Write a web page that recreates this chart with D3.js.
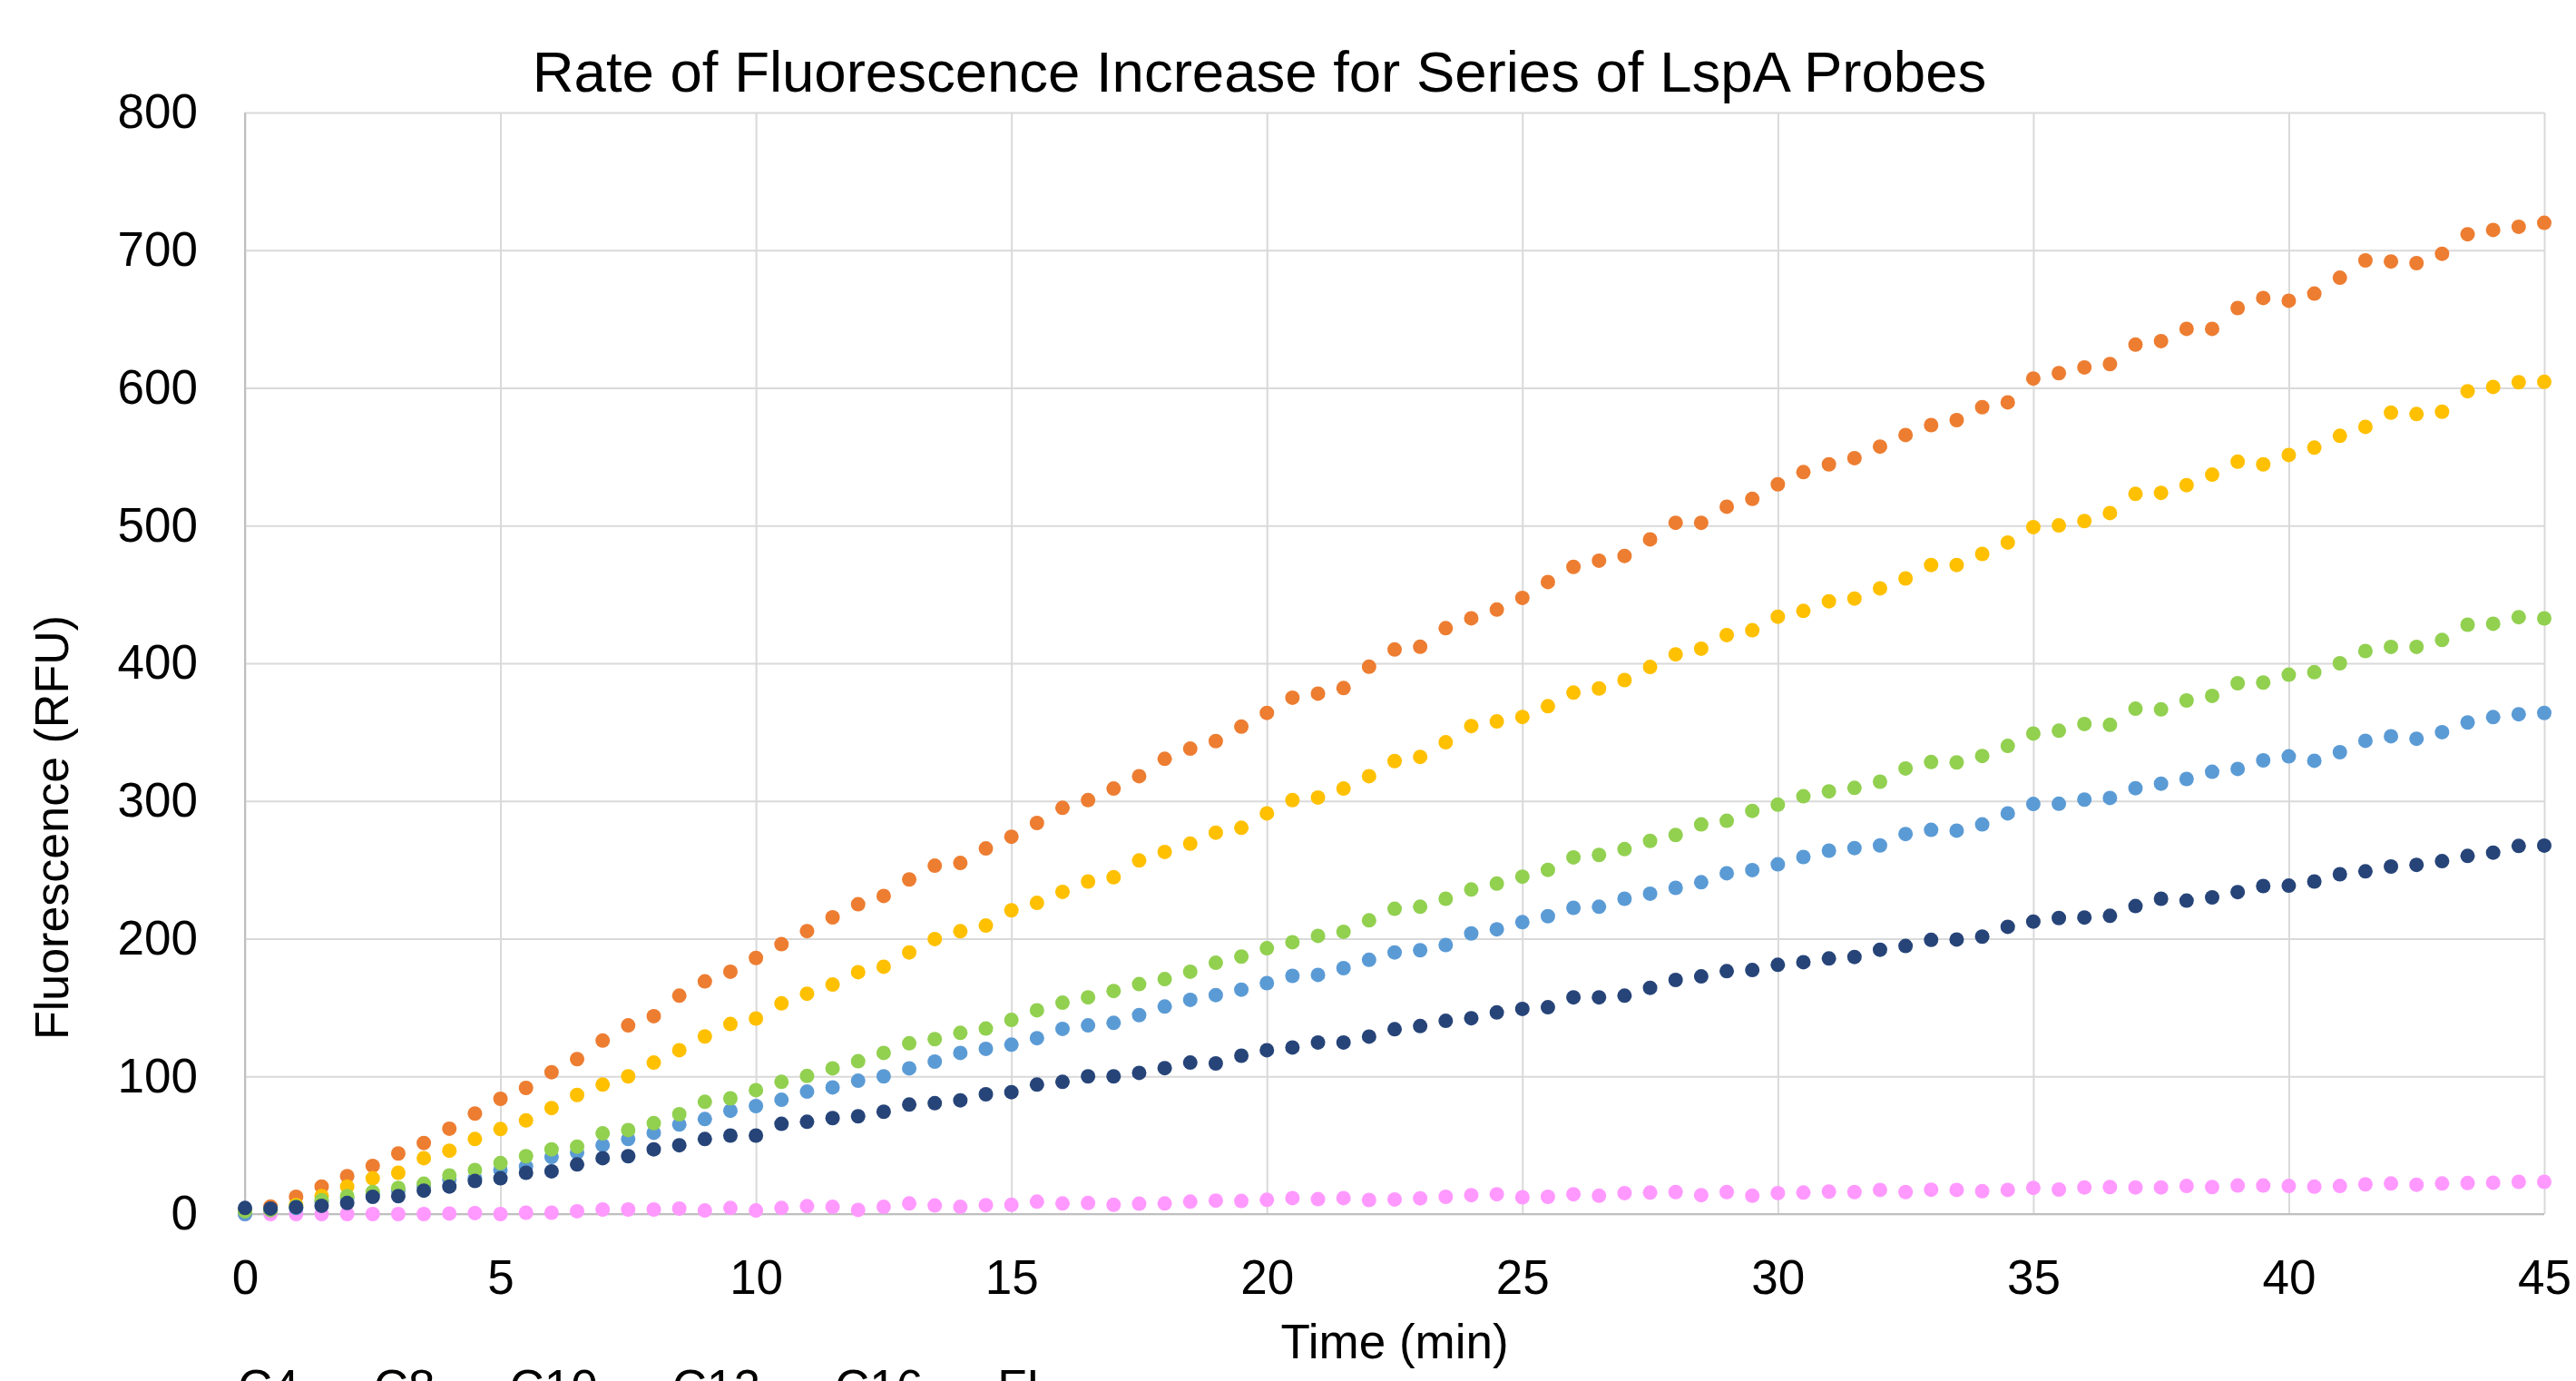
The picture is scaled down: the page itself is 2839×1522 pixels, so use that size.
<!DOCTYPE html>
<html>
<head>
<meta charset="utf-8">
<title>Rate of Fluorescence Increase for Series of LspA Probes</title>
<script src="https://cdn.jsdelivr.net/npm/d3@7"></script>
<style>
  html, body { margin: 0; padding: 0; background: #fff; overflow: hidden; }
  svg { display: block; font-family: "Liberation Sans", Arial, sans-serif; }
</style>
</head>
<body>
<svg></svg>
<script>
// time points, every 0.5 min from 0 to 45
const times = d3.range(0, 45.5, 0.5);

const seriesNames = ['C4', 'C8', 'C10', 'C12', 'C16', 'FL'];
const seriesColors = ['#FF99FF', '#ED7D31', '#FFC000', '#5B9BD5', '#92D050', '#264478'];

const c4 = [
  0, 0, 0, 0, 0, 0, 0, 0, 0.4, 0.7, 0, 1, 1, 2, 3.3, 3.3, 3.3, 4, 2.6, 4.4, 2.6, 4.4,
  5.7, 5.2, 3, 5.2, 7.7, 6.2, 5.2, 6.5, 6.7, 9, 7.7, 8, 6.7, 7.5, 7.7, 9, 9.8, 9.5, 10.3, 11.6, 10.8, 11.6,
  10.2, 10.6, 11.4, 12.5, 13.7, 14.4, 12.2, 12.5, 14.4, 13.3, 15.2, 15.6, 16, 13.7, 16, 13.3, 15.2, 15.6, 16.3, 16, 17.5, 16,
  17.7, 17.5, 16.6, 17.5, 19, 17.8, 19.3, 19.6, 19.3, 19.3, 20.4, 19.6, 20.7, 20.7, 20.4, 19.9, 20.4, 21.6, 22.2, 21.3, 22.2, 22.5, 22.8, 23.4, 23.4
];

const c8 = [
  3, 5.5, 12.5, 20, 27.5, 35, 44, 51.6, 62, 73, 83.7, 91.6, 103, 112.5, 126, 137, 143.7, 158.6, 169, 176, 186, 196,
  205.5, 215.5, 225, 231, 243, 253, 255, 265.5, 274, 284, 295, 300.6, 309, 318, 330.6, 338, 343.5, 354, 364, 375, 378, 382,
  397.5, 410, 412, 425.5, 432.7, 439, 447.5, 459, 470, 474.5, 478, 490, 502, 502, 513.7, 519.4, 530, 538.8, 544.5, 549, 557.4, 565.8,
  573, 576.6, 586, 589.5, 606.8, 610.7, 614.9, 617.3, 631.4, 634, 642.9, 642.9, 658, 665.3, 663.3, 668.5, 680, 692.6, 691.8, 690.6, 697.4, 711.6, 714.7, 717, 719.9
];

const c10 = [
  1, 3, 6.6, 13, 20, 26, 30, 40.6, 46, 54.5, 61.7, 68, 77, 86.5, 94, 100, 110, 119, 129, 138, 142, 153,
  160, 166.7, 175.7, 179.6, 190, 199.7, 205.4, 209.5, 220.6, 226, 234, 241.5, 244.6, 256.8, 263, 269, 277, 280.5, 291, 300.6, 302.5, 309,
  318, 329, 332, 342.6, 354.4, 357.8, 361, 368.8, 378.7, 381.7, 387.8, 397.3, 406.5, 410.6, 420.5, 424, 433.8, 438, 445, 447, 454.4, 461.6,
  471.4, 471.4, 479.4, 487.7, 498.9, 500.1, 503.3, 509.1, 523, 523.8, 529.4, 537, 546.4, 544.5, 551.3, 556.6, 565.2, 571.7, 582, 581, 582.7, 597.6, 600.7, 604.1, 604.4
];

const c12 = [
  0, 3, 4.4, 9, 11.6, 14, 17, 20, 25, 26, 32, 34.5, 41.5, 44.6, 50, 54.5, 59, 65, 69, 75, 78.4, 83,
  88.9, 92, 96.8, 100, 105.8, 110.7, 117, 120, 123, 127.7, 134.5, 137, 138.8, 144.5, 150.7, 155.6, 159, 163, 167.7, 173, 173.7, 178.6,
  184.6, 190, 191.6, 195.4, 203.8, 206.8, 212, 216.3, 222.4, 223.2, 229, 232.7, 236.9, 241, 247.5, 249.8, 254, 259.3, 263.9, 265.8, 267.7, 276,
  279, 278.5, 283, 291, 297.8, 298, 301, 302.2, 309.3, 312.6, 316, 321.2, 323.3, 329.5, 332.4, 329.2, 335.4, 343.7, 347, 345.2, 350, 357, 360.9, 363, 363.9
];

const c16 = [
  2, 3, 5.5, 10, 13, 16, 19, 22, 28, 32, 37, 42, 47, 49, 58.6, 61, 66, 72.5, 81.5, 84, 90, 96,
  100.3, 105.8, 111, 117, 124, 127, 131.6, 134.7, 141, 148, 153.5, 157.4, 162, 167, 170.6, 176, 182.5, 187, 193, 197.4, 202, 205,
  213.3, 221.7, 223.2, 229, 235.7, 240, 245, 250, 259, 260.8, 265, 271, 275.3, 283, 285.6, 292.8, 297.3, 303.4, 307, 309.5, 314, 323.6,
  328.3, 328, 332.7, 340, 349, 351, 355.9, 355.3, 367, 366.5, 373, 376.3, 385.5, 386, 391.7, 393.5, 400, 408.9, 411.9, 411.9, 416.9, 428, 428.7, 433.5, 432.6
];

const fl = [
  4.4, 4, 5, 6, 8, 12.5, 13, 17, 20, 24, 26, 30, 31, 36, 40.6, 42, 47, 50, 54.5, 57, 57, 65.5,
  67, 69.7, 71, 74.3, 79.5, 80.5, 82.6, 87, 88.5, 94, 96, 100, 100, 102.5, 106, 110, 109.4, 115, 119, 121, 124.6, 124.6,
  128.9, 134.2, 136.5, 140.3, 142.2, 146.4, 149, 150.2, 157.4, 157.4, 158.6, 164.3, 170, 172.6, 176.4, 177.2, 181, 182.9, 185.6, 186.7, 192, 194.7,
  199.1, 199.4, 201.5, 208.6, 212.4, 215, 215.4, 216.6, 223.7, 229, 227.6, 230, 233.8, 238.2, 238.5, 241.5, 246.8, 248.9, 252.4, 253.6, 256.3, 260.1, 262.5, 267.3, 267.6
];

const xTicks = [0, 5, 10, 15, 20, 25, 30, 35, 40, 45];
const yTicks = [0, 100, 200, 300, 400, 500, 600, 700, 800];

document.addEventListener('DOMContentLoaded', function() {
  const width = 2839;
  const height = 1522;
  const margin = { top: 124, right: 35, bottom: 184, left: 270 };

  const svg = d3.select('svg')
    .attr('width', width)
    .attr('height', height);

  const allValues = [c4, c8, c10, c12, c16, fl];
  const series = seriesNames.map((name, i) => ({
    name: name,
    color: seriesColors[i],
    points: times.map((t, j) => ({ t: t, v: allValues[i][j] }))
  }));

  const x = d3.scaleLinear()
    .domain([0, 45])
    .range([margin.left, width - margin.right]);

  const y = d3.scaleLinear()
    .domain([0, 800])
    .range([height - margin.bottom, margin.top]);

  // gridlines
  svg.append('g')
    .attr('class', 'grid-y')
    .attr('transform', `translate(${margin.left},0)`)
    .call(d3.axisLeft(y).tickValues(yTicks).tickSize(-(width - margin.right - margin.left)).tickFormat(''))
    .call(g => g.select('.domain').remove())
    .call(g => g.selectAll('line').attr('stroke', '#D9D9D9').attr('stroke-width', 2));

  svg.append('g')
    .attr('class', 'grid-x')
    .attr('transform', `translate(0,${margin.top})`)
    .call(d3.axisTop(x).tickValues(xTicks).tickSize(-(height - margin.bottom - margin.top)).tickFormat(''))
    .call(g => g.select('.domain').remove())
    .call(g => g.selectAll('line').attr('stroke', '#D9D9D9').attr('stroke-width', 2));

  // axis lines
  svg.append('line')
    .attr('x1', x(0)).attr('x2', x(45))
    .attr('y1', y(0)).attr('y2', y(0))
    .attr('stroke', '#BFBFBF').attr('stroke-width', 2);
  svg.append('line')
    .attr('x1', x(0)).attr('x2', x(0))
    .attr('y1', y(0)).attr('y2', y(800))
    .attr('stroke', '#BFBFBF').attr('stroke-width', 2);

  // tick labels
  svg.append('g')
    .attr('class', 'y-axis')
    .attr('transform', `translate(${margin.left},0)`)
    .call(d3.axisLeft(y).tickValues(yTicks).tickSize(0).tickPadding(52))
    .call(g => g.select('.domain').remove())
    .call(g => g.selectAll('text')
      .attr('font-size', 53)
      .attr('font-family', '"Liberation Sans", Arial, sans-serif')
      .attr('fill', '#000'));

  svg.append('g')
    .attr('class', 'x-axis')
    .attr('transform', `translate(0,${y(0)})`)
    .call(d3.axisBottom(x).tickValues(xTicks).tickSize(0).tickPadding(50))
    .call(g => g.select('.domain').remove())
    .call(g => g.selectAll('text')
      .attr('font-size', 53)
      .attr('font-family', '"Liberation Sans", Arial, sans-serif')
      .attr('fill', '#000'));

  // points
  const groups = svg.append('g')
    .attr('class', 'series')
    .selectAll('g')
    .data(series)
    .enter().append('g')
    .attr('fill', d => d.color);

  groups.selectAll('circle')
    .data(d => d.points)
    .enter().append('circle')
    .attr('cx', d => x(d.t))
    .attr('cy', d => y(d.v))
    .attr('r', 8);

  // titles
  svg.append('text')
    .attr('x', 1388)
    .attr('y', 101)
    .attr('text-anchor', 'middle')
    .attr('font-size', 63.5)
    .attr('fill', '#000')
    .text('Rate of Fluorescence Increase for Series of LspA Probes');

  svg.append('text')
    .attr('x', (x(0) + x(45)) / 2)
    .attr('y', 1497)
    .attr('text-anchor', 'middle')
    .attr('font-size', 53)
    .attr('fill', '#000')
    .text('Time (min)');

  svg.append('text')
    .attr('transform', 'translate(75,912) rotate(-90)')
    .attr('text-anchor', 'middle')
    .attr('font-size', 52)
    .attr('fill', '#000')
    .text('Fluorescence (RFU)');

  // legend (runs off the bottom edge, as in the original)
  const legend = svg.append('g').attr('class', 'legend');
  let lx = 230;
  series.forEach(s => {
    const item = legend.append('g');
    item.append('circle')
      .attr('cx', lx)
      .attr('cy', 1530)
      .attr('r', 8)
      .attr('fill', s.color);
    const txt = item.append('text')
      .attr('x', lx + 32)
      .attr('y', 1547)
      .attr('font-size', 53)
      .attr('fill', '#000')
      .text(s.name);
    lx += 32 + txt.node().getComputedTextLength() + 50;
  });
});
</script>
</body>
</html>
